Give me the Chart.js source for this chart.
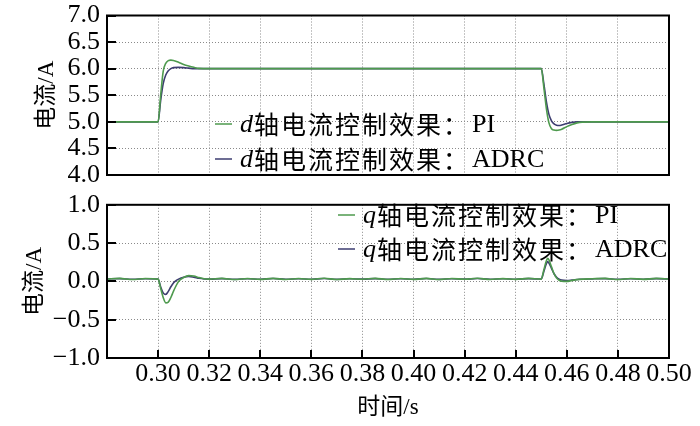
<!DOCTYPE html>
<html><head><meta charset="utf-8">
<script src="https://cdn.jsdelivr.net/npm/chart.js@4/dist/chart.umd.min.js"></script>
<style>
html,body{margin:0;padding:0;background:#fff;}
#wrap{position:relative;width:700px;height:426px;overflow:hidden;}
canvas{position:absolute;left:0;}
#c1{top:0;} #c2{top:190px;}
</style></head><body>
<div id="wrap"><canvas id="c1" width="700" height="190"></canvas><canvas id="c2" width="700" height="236"></canvas></div>
<script>
// ---------- data ----------
const seriesNames = ['PI', 'ADRC'];
const dLabels = ['d轴电流控制效果：PI', 'd轴电流控制效果：ADRC'];
const qLabels = ['q轴电流控制效果：PI', 'q轴电流控制效果：ADRC'];
const xTickValues = [0.30,0.32,0.34,0.36,0.38,0.40,0.42,0.44,0.46,0.48,0.50];

const dTime = [0.280,0.300,0.301,0.302,0.303,0.304,0.305,0.306,0.308,0.310,0.312,0.314,0.316,0.320,0.350,0.400,
  0.450,0.451,0.452,0.453,0.454,0.455,0.456,0.457,0.458,0.460,0.462,0.464,0.466,0.470,0.500];
const dPI = [5.0,5.0,5.50,5.95,6.10,6.15,6.16,6.155,6.12,6.08,6.05,6.025,6.005,6.0,6.0,6.0,
  6.0,5.65,5.25,4.98,4.87,4.845,4.84,4.845,4.86,4.91,4.95,4.98,4.995,5.0,5.0];
const dADRC = [5.0,5.0,5.40,5.72,5.88,5.96,6.0,6.02,6.025,6.02,6.01,6.0,6.0,6.0,6.0,6.0,
  6.0,5.72,5.38,5.14,5.02,4.96,4.935,4.93,4.94,4.97,4.99,5.0,5.0,5.0,5.0];

const qTime = [0.280,0.285,0.290,0.295,0.300,
  0.301,0.302,0.303,0.304,0.305,0.306,0.307,0.308,
  0.310,0.312,0.314,0.316,0.318,0.320,
  0.325,0.330,0.335,0.340,0.345,0.350,0.355,0.360,0.365,0.370,0.375,0.380,0.385,0.390,0.395,0.400,
  0.405,0.410,0.415,0.420,0.425,0.430,0.435,0.440,0.445,0.450,
  0.451,0.452,0.4525,0.453,0.454,0.455,0.456,0.457,0.458,
  0.460,0.462,0.465,
  0.470,0.475,0.480,0.485,0.490,0.495,0.500];
const qPI = [0.030,0.040,0.024,0.038,0.030,
  -0.09,-0.21,-0.28,-0.27,-0.21,-0.13,-0.06,0.00,
  0.05,0.075,0.07,0.05,0.035,0.030,
  0.040,0.024,0.038,0.026,0.040,0.025,0.037,0.027,0.041,0.024,0.036,0.028,0.040,0.025,0.038,0.026,
  0.040,0.024,0.037,0.028,0.041,0.025,0.036,0.027,0.039,0.030,
  0.15,0.27,0.30,0.28,0.19,0.10,0.045,0.015,0.003,
  0.0,0.012,0.026,
  0.034,0.040,0.024,0.038,0.027,0.040,0.030];
const qADRC = [0.032,0.036,0.028,0.035,0.030,
  -0.07,-0.15,-0.17,-0.13,-0.07,-0.02,0.01,0.03,
  0.055,0.065,0.055,0.04,0.032,0.030,
  0.036,0.027,0.035,0.029,0.037,0.028,0.034,0.029,0.037,0.027,0.034,0.030,0.036,0.028,0.035,0.029,
  0.037,0.027,0.034,0.030,0.037,0.028,0.034,0.029,0.036,0.031,
  0.13,0.23,0.26,0.24,0.17,0.10,0.055,0.03,0.018,
  0.012,0.018,0.028,
  0.033,0.036,0.028,0.035,0.029,0.036,0.031];

// ---------- styles ----------
const SERIF = "'Liberation Serif','Times New Roman',serif";
const CJK = "'Noto Sans CJK SC',sans-serif";
const MIX = "'Liberation Serif','Noto Sans CJK SC',serif";
const COLORS = ['#4e9a4e', '#3d3d70'];
const GRID = '#8a8a8a';
const TXT = '#000';

function pts(t, v) { return t.map((x, i) => ({x: x, y: v[i]})); }

function fmtNum(v, d) {
  const s = Math.abs(v).toFixed(d);
  return v < -1e-9 ? '\u2212' + s : s;
}

const framePlugin = {
  id: 'frame',
  afterDraw(chart, args, opts) {
    const ctx = chart.ctx, a = chart.chartArea;
    ctx.save();
    ctx.strokeStyle = '#000';
    ctx.lineWidth = 2;
    ctx.setLineDash([]);
    const ys = chart.scales.y;
    ys.ticks.forEach(t => {
      const p = Math.round(ys.getPixelForValue(t.value));
      ctx.beginPath(); ctx.moveTo(a.left, p); ctx.lineTo(a.left + 9, p); ctx.stroke();
    });
    if (opts.xTicks) {
      const xs = chart.scales.x;
      xs.ticks.forEach(t => {
        const p = Math.round(xs.getPixelForValue(t.value));
        ctx.beginPath(); ctx.moveTo(p, a.bottom); ctx.lineTo(p, a.bottom - 8); ctx.stroke();
      });
    }
    ctx.strokeRect(a.left, a.top, a.right - a.left, a.bottom - a.top);

    // legend
    const L = opts.legend;
    chart.data.datasets.forEach((ds, i) => {
      const y = L.y + i * L.dy;
      ctx.strokeStyle = ds.borderColor;
      ctx.lineWidth = 1.5;
      ctx.beginPath(); ctx.moveTo(L.x, y); ctx.lineTo(L.x + 17, y); ctx.stroke();
      const lab = ds.label;
      const letter = lab[0];
      const rest = lab.slice(1);
      const k = rest.indexOf('：');
      const cjk = rest.slice(0, k + 1);
      const latin = rest.slice(k + 1);
      ctx.fillStyle = TXT;
      ctx.textBaseline = 'middle';
      ctx.textAlign = 'left';
      let x = L.x + 25;
      ctx.font = 'italic 26px ' + SERIF;
      ctx.fillText(letter, x, y + 1);
      x += ctx.measureText(letter).width + 1;
      ctx.font = '25px ' + CJK;
      try { ctx.letterSpacing = '2px'; } catch (e) {}
      ctx.fillText(cjk, x, y);
      x += ctx.measureText(cjk).width;
      try { ctx.letterSpacing = '0px'; } catch (e) {}
      ctx.font = '26px ' + SERIF;
      ctx.fillText(latin, x + 2, y + 1);
    });
    ctx.restore();
  }
};

function makeDatasets(labels, t, a, b) {
  return [
    {label: labels[0], data: pts(t, a), borderColor: COLORS[0], borderWidth: 1.6, pointRadius: 0, fill: false, cubicInterpolationMode: 'monotone'},
    {label: labels[1], data: pts(t, b), borderColor: COLORS[1], borderWidth: 1.6, pointRadius: 0, fill: false, cubicInterpolationMode: 'monotone'}
  ];
}

function xScale(showLabels, height) {
  return {
    type: 'linear', min: 0.28, max: 0.50,
    afterBuildTicks(s) { s.ticks = [{value: 0.28}].concat(xTickValues.map(v => ({value: v}))); },
    ticks: {
      display: showLabels, stepSize: 0.02, autoSkip: false, maxRotation: 0, padding: 1,
      color: TXT, font: {family: SERIF, size: 26},
      callback: v => (v < 0.29 ? '' : v.toFixed(2))
    },
    grid: {color: GRID, lineWidth: 1, drawTicks: false},
    border: {display: false, dash: [1, 2]},
    title: showLabels ? {display: true, text: '时间/s', color: TXT, font: {family: MIX, size: 23}, padding: {top: 0, bottom: 4}} : {display: false},
    afterFit(s) { s.height = height; }
  };
}

function yScale(min, max, titlePad) {
  return {
    type: 'linear', min: min, max: max,
    ticks: {stepSize: 0.5, padding: 7, color: TXT, font: {family: SERIF, size: 26, lineHeight: 0.6},
      callback: v => fmtNum(v, 1)},
    grid: {color: GRID, lineWidth: 1, drawTicks: false},
    border: {display: false, dash: [1, 2]},
    title: {display: true, text: '电流/A', color: TXT, font: {family: MIX, size: 23}, padding: {top: titlePad, bottom: 0}},
    afterFit(s) { s.width = 107; }
  };
}

const common = {
  responsive: false, devicePixelRatio: 1, animation: false,
  events: [],
};

new Chart(document.getElementById('c1'), {
  type: 'line',
  data: {datasets: makeDatasets(dLabels, dTime, dPI, dADRC)},
  options: Object.assign({}, common, {
    layout: {padding: {left: 0, right: 31, top: 15.5, bottom: 0}},
    scales: {x: xScale(false, 15), y: yScale(4, 7, 33)},
    plugins: {legend: {display: false}, tooltip: {enabled: false},
      frame: {xTicks: false, legend: {x: 215, y: 124, dy: 35}}}
  }),
  plugins: [framePlugin]
});

new Chart(document.getElementById('c2'), {
  type: 'line',
  data: {datasets: makeDatasets(qLabels, qTime, qPI, qADRC)},
  options: Object.assign({}, common, {
    layout: {padding: {left: 0, right: 31, top: 9, bottom: 0}},
    scales: {x: xScale(true, 68), y: yScale(-1, 1, 21)},
    plugins: {legend: {display: false}, tooltip: {enabled: false},
      frame: {xTicks: true, legend: {x: 338, y: 25, dy: 34}}}
  }),
  plugins: [framePlugin]
});
</script>
</body></html>
